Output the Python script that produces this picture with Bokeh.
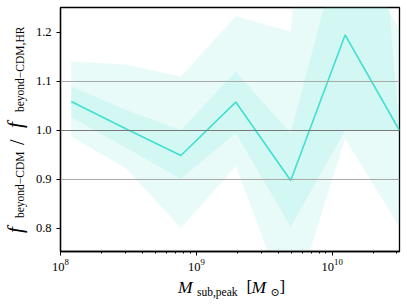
from bokeh.plotting import figure
from bokeh.models import Range1d, Span, FixedTicker, PrintfTickFormatter, LogTicker, Div
from bokeh.layouts import row, column
from bokeh.embed import file_html
from bokeh.resources import INLINE

# ---- data ----
mass = [1.2e8, 3.05e8, 7.7e8, 1.95e9, 4.95e9, 1.245e10, 3.13e10]
ratio = [1.059, 1.003, 0.949, 1.058, 0.898, 1.195, 1.000]
inner_hi = [1.090, 1.042, 1.001, 1.120, 0.995, 1.415, 1.204]
inner_lo = [1.027, 0.965, 0.901, 0.995, 0.803, 1.000, 1.000]
outer_hi = [1.141, 1.134, 1.110, 1.233, 1.202, 2.320, 1.000]
outer_lo = [0.988, 0.922, 0.801, 0.927, 0.630, 0.983, 0.803]
ref_lines = [0.9, 1.0, 1.1]
y_ticks = [0.8, 0.9, 1.0, 1.1, 1.2]
x_start = 1e8
y_start, y_end = 0.753, 1.251

FONT = "Liberation Serif"
TURQ = "#40E0D0"

YDIV_W = 32
P_W, P_H = 375, 276
TOTAL_H = 305

p = figure(width=P_W, height=P_H, x_axis_type="log",
           x_range=Range1d(x_start, mass[-1]), y_range=Range1d(y_start, y_end),
           output_backend="svg", toolbar_location=None, title=None,
           min_border_left=28, min_border_right=8, min_border_top=7, min_border_bottom=25,
           margin=(0, 0, 0, 0))

p.varea(x=mass, y1=outer_lo, y2=outer_hi, fill_color=TURQ, fill_alpha=0.12)
p.varea(x=mass, y1=inner_lo, y2=inner_hi, fill_color=TURQ, fill_alpha=0.12)

for v in ref_lines:
    if v == 1.0:
        p.add_layout(Span(location=v, dimension="width", line_color="#7a7a7a", line_width=1.2))
    else:
        p.add_layout(Span(location=v, dimension="width", line_color="#a8a8a8", line_width=1.0))

p.line(mass, ratio, line_color=TURQ, line_width=1.6)

p.grid.visible = False
p.outline_line_color = "black"
p.outline_line_width = 1.3
p.outline_line_alpha = 1.0

p.yaxis.ticker = FixedTicker(ticks=y_ticks)
p.yaxis.formatter = PrintfTickFormatter(format="%.1f")
p.xaxis.ticker = LogTicker(num_minor_ticks=10)

for ax in (p.xaxis[0], p.yaxis[0]):
    ax.axis_line_color = "black"
    ax.axis_line_width = 1.3
    ax.major_tick_in = 0
    ax.major_tick_out = 4
    ax.minor_tick_in = 0
    ax.minor_tick_out = 2
    ax.major_tick_line_color = "black"
    ax.minor_tick_line_color = "black"
    ax.major_label_text_font = FONT
    ax.major_label_text_font_size = "12.5px"
    ax.major_label_text_color = "black"
    ax.major_label_standoff = 5
    ax.axis_label = None
p.yaxis.minor_tick_out = 0
p.xaxis.major_label_standoff = 3

ASC = 0.891  # ascent of Liberation Serif (em)


def piece(text, size, left, top, italic=False, rotate=False):
    style = (f"position:absolute; left:{left:.1f}px; top:{top:.1f}px; white-space:nowrap; "
             f"font-family:'{FONT}', 'DejaVu Serif', serif; font-size:{size}px; "
             f"line-height:{1.107 * size:.2f}px; color:black; "
             f"font-style:{'italic' if italic else 'normal'};")
    if rotate:
        style += " transform-origin:0 0; transform:rotate(-90deg);"
    return f'<span style="{style}">{text}</span>'


def rot(text, size, baseline_x, start_y, italic=False):
    return piece(text, size, baseline_x - ASC * size, start_y, italic, rotate=True)


def hor(text, size, start_x, baseline_y, italic=False):
    return piece(text, size, start_x - YDIV_W, baseline_y - P_H - ASC * size, italic)


ylab_html = ('<div style="position:relative; width:%dpx; height:%dpx; overflow:visible;">' % (YDIV_W, TOTAL_H)
             + rot("f", 21, 23, 233, True)
             + rot("beyond\u2212CDM", 11.5, 24.5, 218)
             + rot("/", 20, 23.5, 145)
             + rot("f", 21, 23, 128, True)
             + rot("beyond\u2212CDM,HR", 11.5, 24.5, 112)
             + '</div>')

xlab_html = ('<div style="position:relative; width:%dpx; height:%dpx; overflow:visible;">' % (P_W, TOTAL_H - P_H)
             + hor("M", 17.5, 178, 293.3, True)
             + hor("sub,peak", 11.5, 197, 296)
             + hor("[", 17, 246.5, 293.3)
             + hor("M", 17.5, 251.5, 293.3, True)
             + hor("\u2299", 11, 270.5, 296)
             + hor("]", 17, 279.5, 293.3)
             + '</div>')

ydiv = Div(text=ylab_html, width=YDIV_W, height=TOTAL_H, margin=(0, 0, 0, 0))
xdiv = Div(text=xlab_html, width=P_W, height=TOTAL_H - P_H, margin=(0, 0, 0, 0))

layout = row(ydiv, column(p, xdiv, spacing=0, margin=(0, 0, 0, 0)), spacing=0, margin=(0, 0, 0, 0))

open("out.html", "w").write(file_html(layout, INLINE))
